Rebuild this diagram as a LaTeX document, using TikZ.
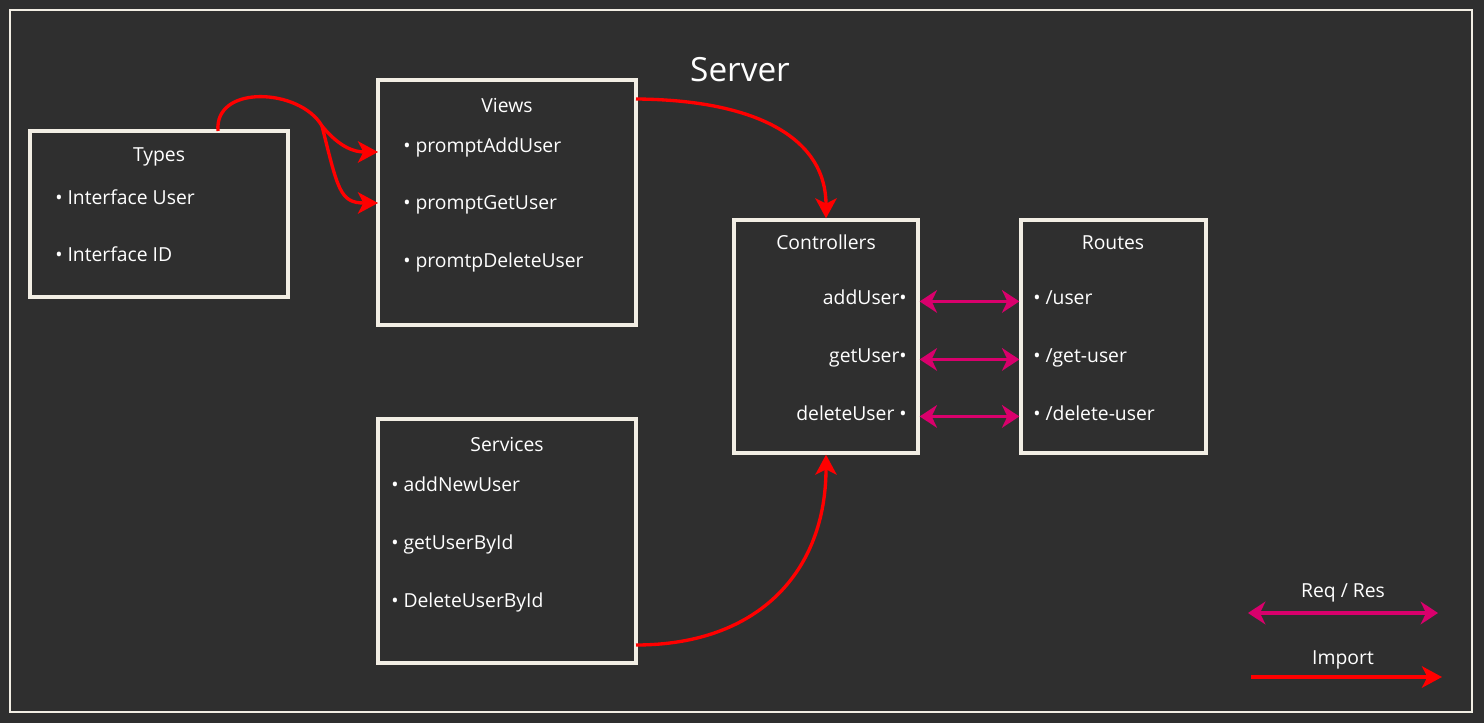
\documentclass[tikz,border=0pt]{standalone}
\usepackage{fontspec}
\setmainfont{Open Sans}
\usetikzlibrary{arrows.meta,fit,calc}

\definecolor{bgcol}{HTML}{2F2F2F}
\definecolor{framecol}{HTML}{F2EEE4}
\definecolor{importcol}{HTML}{FF0000}
\definecolor{reqcol}{HTML}{D9006C}

\tikzset{
  box/.style={draw=framecol, line width=2.5pt, inner sep=0pt},
  title/.style={anchor=base, text=white, inner sep=0pt, font=\fontsize{14.5}{17}\selectfont},
  item/.style={anchor=base west, text=white, inner sep=0pt, font=\fontsize{14.5}{17}\selectfont},
  ritem/.style={item, anchor=base east},
  importarrow/.style={draw=importcol, line width=2.5pt,
    -{Stealth[length=15pt,width=16pt,inset=4pt]}},
  reqres/.style={draw=reqcol, line width=2.5pt,
    {Stealth[length=13pt,width=17pt,inset=4pt]}-{Stealth[length=13pt,width=17pt,inset=4pt]}}
}

\begin{document}
\begin{tikzpicture}[x=0.75pt,y=-0.75pt]
  \useasboundingbox (0,0) rectangle (1484,723);
  \fill[bgcol] (0,0) rectangle (1484,723);
  \node[box, line width=2pt, fit={(10,10) (1472,712)}] (server) {};
  \node[title, font=\fontsize{25}{30}\selectfont] (servertitle) at (740,82) {Server};

  % boxes
  \node[box, fit={(30,131) (288,297)}] (types) {};
  \node[box, fit={(378,80) (636,325)}] (views) {};
  \node[box, fit={(378,419) (636,663)}] (services) {};
  \node[box, fit={(734,220) (918,453)}] (controllers) {};
  \node[box, fit={(1021,220) (1206,453)}] (routes) {};

  % types
  \node[title] (typestitle) at (159,162) {Types};
  \node[item] (tuser) at (55,205) {• Interface User};
  \node[item] (tid) at (55,262) {• Interface ID};

  % views
  \node[title] (viewstitle) at (507,113) {Views};
  \node[item] (vadd) at (403,153) {• promptAddUser};
  \node[item] (vget) at (403,210) {• promptGetUser};
  \node[item] (vdel) at (403,268) {• promtpDeleteUser};

  % services
  \node[title] (servicestitle) at (507,451) {Services};
  \node[item] (sadd) at (391,491) {• addNewUser};
  \node[item] (sget) at (391,549) {• getUserById};
  \node[item] (sdel) at (391,607) {• DeleteUserById};

  % controllers
  \node[title] (ctrltitle) at (826,250) {Controllers};
  \node[ritem] (cadd) at (907,305) {addUser•};
  \node[ritem] (cget) at (907,363) {getUser•};
  \node[ritem] (cdel) at (907,420) {deleteUser •};

  % routes
  \node[title] (routestitle) at (1113,250) {Routes};
  \node[item] (radd) at (1033,305) {• /user};
  \node[item] (rget) at (1033,363) {• /get-user};
  \node[item] (rdel) at (1033,420) {• /delete-user};

  % imports
  \coordinate (tout) at (218,131);
  \coordinate (split) at (322,126);
  \coordinate (vin1) at (378,152);
  \coordinate (vin2) at (378,203);
  \coordinate (vout) at (636,99);
  \coordinate (sout) at (636,645);
  \draw[importarrow] (tout) .. controls (214,84) and (300,88) .. (split)
    .. controls (340,148) and (355,152) .. (vin1);
  \draw[importarrow] (split) .. controls (338,190) and (340,203) .. (vin2);
  \draw[importarrow] (vout) .. controls (760,100) and (826,140) .. (controllers.north);
  \draw[importarrow] (sout) .. controls (760,645) and (826,570) .. (controllers.south);

  % requests
  \draw[reqres] (controllers.east |- cadd.mid) -- (routes.west |- radd.mid);
  \draw[reqres] (controllers.east |- cget.mid) -- (routes.west |- rget.mid);
  \draw[reqres] (controllers.east |- cdel.mid) -- (routes.west |- rdel.mid);

  % legend
  \node[title] (reqlabel) at (1343,597) {Req / Res};
  \coordinate (reqL) at (1248,613);
  \coordinate (reqR) at (1438,613);
  \draw[reqres] (reqL) -- (reqR);
  \node[title] (implabel) at (1343,664) {Import};
  \coordinate (impL) at (1251,677);
  \coordinate (impR) at (1442,677);
  \draw[importarrow] (impL) -- (impR);
\end{tikzpicture}
\end{document}
